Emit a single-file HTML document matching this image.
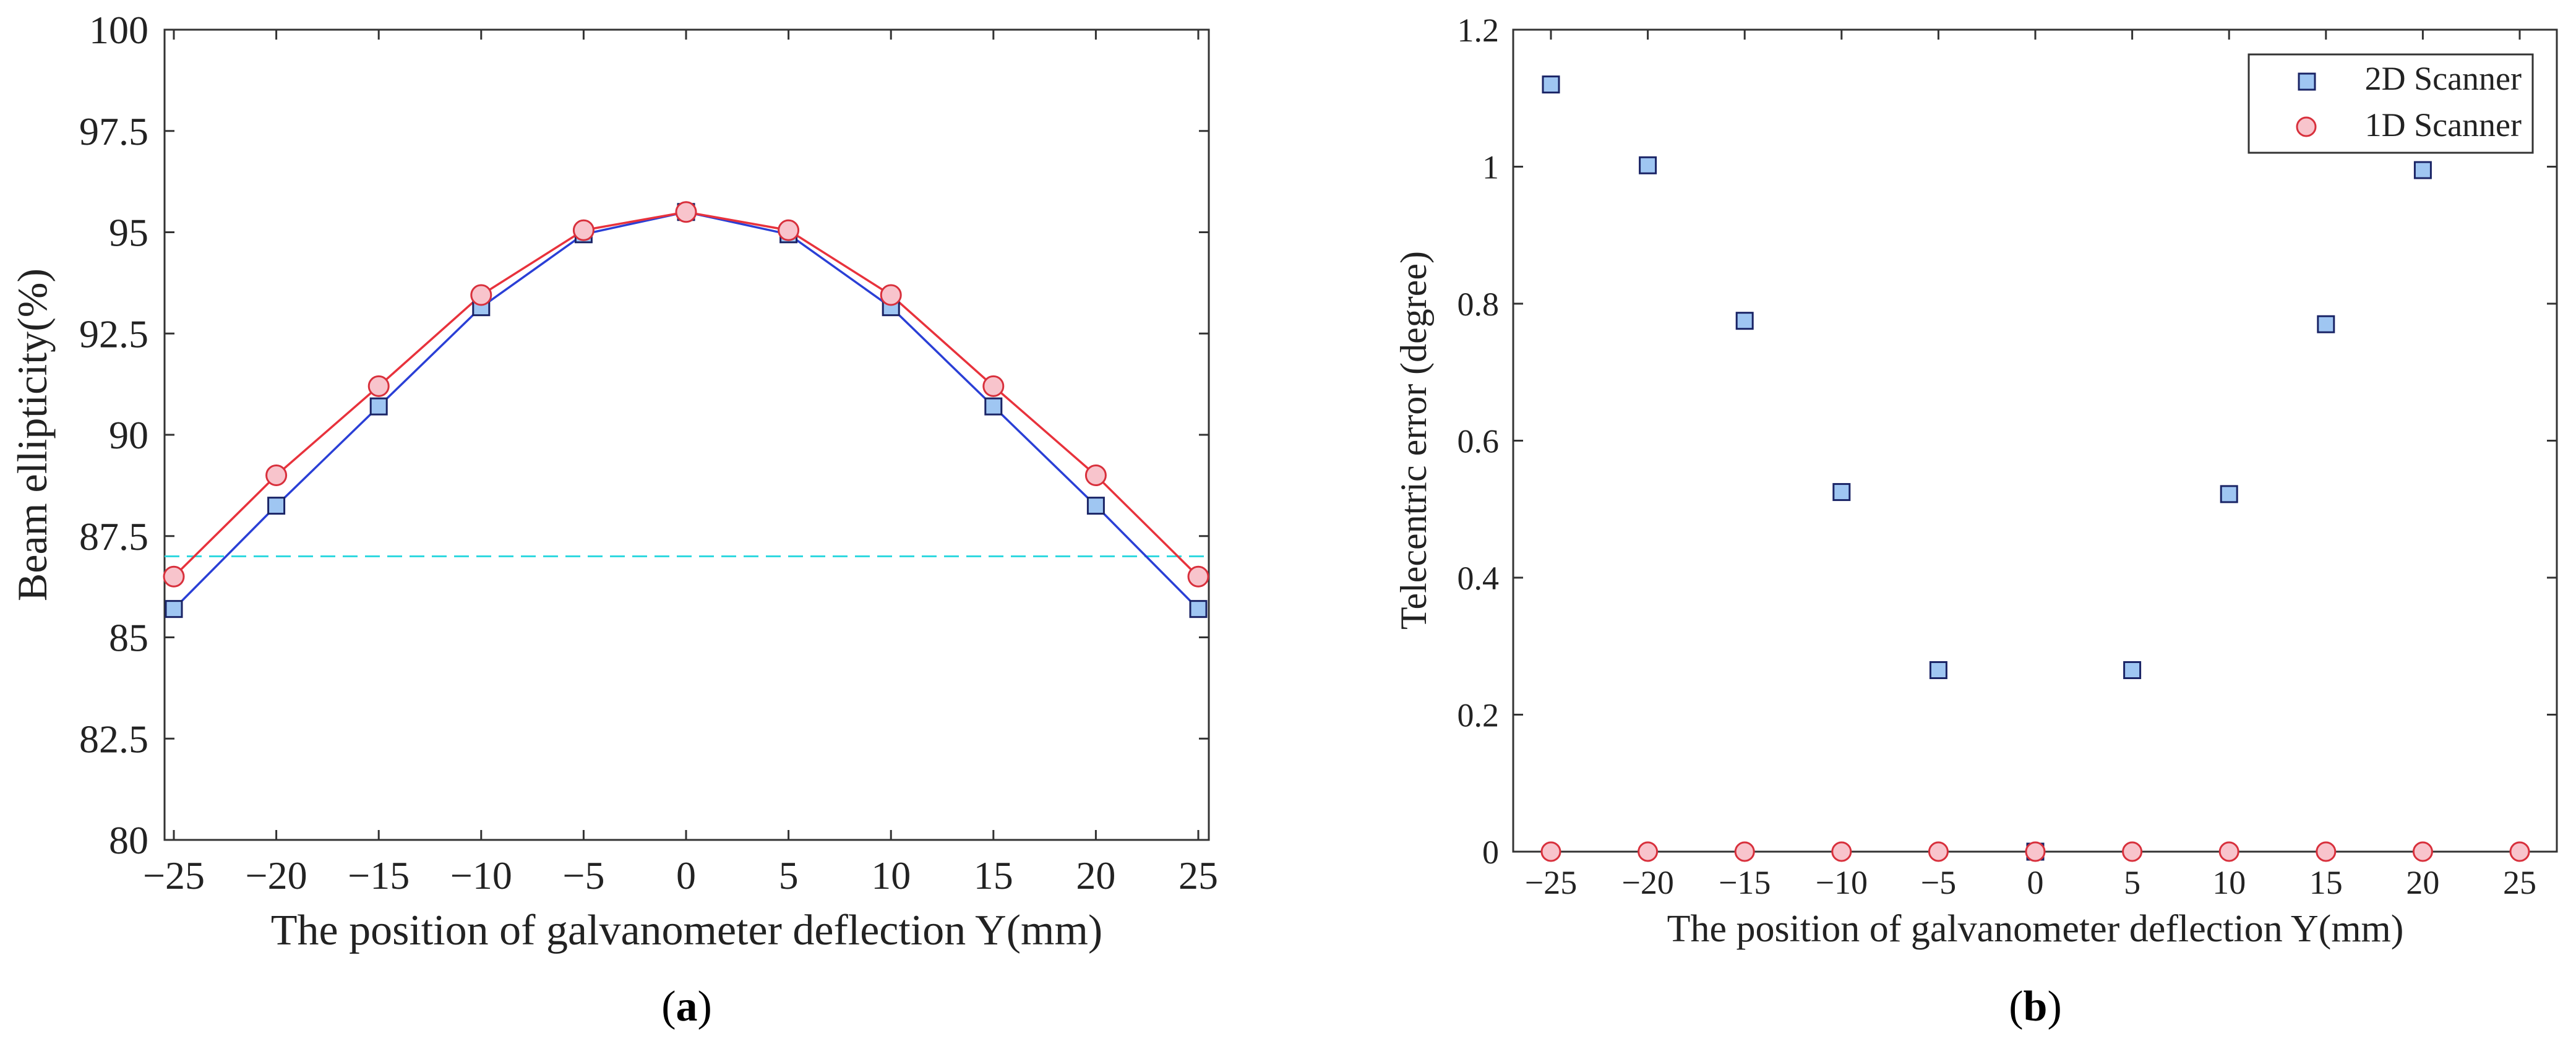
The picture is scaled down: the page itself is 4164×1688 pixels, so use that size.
<!DOCTYPE html>
<html><head><meta charset="utf-8">
<style>
html,body{margin:0;padding:0;background:#fff;}
svg{display:block;font-family:"Liberation Serif",serif;}
</style></head>
<body>
<svg id="fig" width="4164" height="1688" viewBox="0 0 4164 1688" xmlns="http://www.w3.org/2000/svg">
<g id="pa"></g>
<g id="pb"></g>
</svg>
<script>
const categories = [-25,-20,-15,-10,-5,0,5,10,15,20,25];
const ellip2D = [85.7,88.25,90.7,93.15,94.95,95.5,94.95,93.15,90.7,88.25,85.7];
const ellip1D = [86.5,89.0,91.2,93.45,95.05,95.5,95.05,93.45,91.2,89.0,86.5];
const thresholdValue = [87.0];
const yTicksA = [80,82.5,85,87.5,90,92.5,95,97.5,100];
const yTickLabelsA = ["80","82.5","85","87.5","90","92.5","95","97.5","100"];
const tele2DX = [-25,-20,-15,-10,-5,0,5,10,15,20];
const tele2D = [1.12,1.002,0.775,0.525,0.265,0,0.265,0.522,0.77,0.995];
const tele1D = [0,0,0,0,0,0,0,0,0,0,0];
const yTicksB = [0,0.2,0.4,0.6,0.8,1.0,1.2];
const yTickLabelsB = ["0","0.2","0.4","0.6","0.8","1","1.2"];
const xTickLabels = ["\u221225","\u221220","\u221215","\u221210","\u22125","0","5","10","15","20","25"];

const NS="http://www.w3.org/2000/svg";
function mk(parent,tag,attrs,text){const e=document.createElementNS(NS,tag);for(const k in attrs)e.setAttribute(k,attrs[k]);if(text!==undefined)e.textContent=text;parent.appendChild(e);return e;}

// Panel A
const A={l:266,r:1954,t:48,b:1358};
const xA=v=>281+(v+25)*(1937-281)/50;
const yA=v=>A.b-(v-80)*(A.b-A.t)/20;
const pa=document.getElementById('pa');
let f=mk(pa,'rect',{x:A.l,y:A.t,width:A.r-A.l,height:A.b-A.t,fill:'none',stroke:'#333','stroke-width':3});


categories.forEach((c,i)=>{
  const x=xA(c);
  mk(pa,'line',{x1:x,y1:A.b,x2:x,y2:A.b-16,stroke:'#333','stroke-width':3});
  mk(pa,'line',{x1:x,y1:A.t,x2:x,y2:A.t+16,stroke:'#333','stroke-width':3});
  const t=mk(pa,'text',{x:x,y:1437,'font-size':64,'text-anchor':'middle',fill:'#222'},xTickLabels[i]);
  
  
});
yTicksA.forEach((v,i)=>{
  const y=yA(v);
  mk(pa,'line',{x1:A.l,y1:y,x2:A.l+16,y2:y,stroke:'#333','stroke-width':3});
  mk(pa,'line',{x1:A.r,y1:y,x2:A.r-16,y2:y,stroke:'#333','stroke-width':3});
  const t=mk(pa,'text',{x:240,y:y+22,'font-size':64,'text-anchor':'end',fill:'#222'},yTickLabelsA[i]);
  
  
});
let d=mk(pa,'line',{x1:A.l,y1:yA(thresholdValue[0]),x2:A.r,y2:yA(thresholdValue[0]),stroke:'#30d8e0','stroke-width':3,'stroke-dasharray':'24 12'});


let l2=mk(pa,'polyline',{points:categories.map((c,i)=>xA(c)+','+yA(ellip2D[i])).join(' '),fill:'none',stroke:'#2a3fd6','stroke-width':3.5});


let l1=mk(pa,'polyline',{points:categories.map((c,i)=>xA(c)+','+yA(ellip1D[i])).join(' '),fill:'none',stroke:'#e8323c','stroke-width':3.5});


categories.forEach((c,i)=>{
  const s=mk(pa,'rect',{x:xA(c)-13,y:yA(ellip2D[i])-13,width:26,height:26,fill:'#9fc6f2',stroke:'#1a2466','stroke-width':3});
  
  
});
categories.forEach((c,i)=>{
  const s=mk(pa,'circle',{cx:xA(c),cy:yA(ellip1D[i]),r:16,fill:'#f8c4cc',stroke:'#d8303c','stroke-width':3});
  
  
});
let t=mk(pa,'text',{x:0,y:0,'font-size':68,'text-anchor':'middle',fill:'#222',transform:'translate(75,703) rotate(-90)'},'Beam ellipticity(%)');


t=mk(pa,'text',{x:1110,y:1527,'font-size':70,'text-anchor':'middle',fill:'#222'},'The position of galvanometer deflection Y(mm)');


t=mk(pa,'text',{x:1110,y:1650,'font-size':70,'text-anchor':'middle',fill:'#000'});
t.innerHTML='(<tspan font-weight="bold">a</tspan>)';



// Panel B
const B={l:2446,r:4133,t:48,b:1377};
const xB=v=>2507+(v+25)*(4073-2507)/50;
const yB=v=>B.b-v*(B.b-B.t)/1.2;
const pb=document.getElementById('pb');
f=mk(pb,'rect',{x:B.l,y:B.t,width:B.r-B.l,height:B.b-B.t,fill:'none',stroke:'#333','stroke-width':3});


categories.forEach((c,i)=>{
  const x=xB(c);
  mk(pb,'line',{x1:x,y1:B.b,x2:x,y2:B.b-16,stroke:'#333','stroke-width':3});
  mk(pb,'line',{x1:x,y1:B.t,x2:x,y2:B.t+16,stroke:'#333','stroke-width':3});
  const tt=mk(pb,'text',{x:x,y:1445,'font-size':54,'text-anchor':'middle',fill:'#222'},xTickLabels[i]);
  
  
});
yTicksB.forEach((v,i)=>{
  const y=yB(v);
  mk(pb,'line',{x1:B.l,y1:y,x2:B.l+16,y2:y,stroke:'#333','stroke-width':3});
  mk(pb,'line',{x1:B.r,y1:y,x2:B.r-16,y2:y,stroke:'#333','stroke-width':3});
  const tt=mk(pb,'text',{x:2423,y:y+19,'font-size':54,'text-anchor':'end',fill:'#222'},yTickLabelsB[i]);
  
  
});
// legend (drawn before markers so marker at 20 sits just below it)
const lg=mk(pb,'g',{});


mk(lg,'rect',{x:3635,y:88,width:459,height:159,fill:'#fff',stroke:'#333','stroke-width':3});
let le=mk(lg,'rect',{x:3716,y:119,width:26,height:26,fill:'#9fc6f2',stroke:'#1a2466','stroke-width':3});


le=mk(lg,'text',{x:4076,y:145,'font-size':54,'text-anchor':'end',fill:'#222'},'2D Scanner');


le=mk(lg,'ellipse',{cx:3728,cy:205,rx:15,ry:15,fill:'#f8c4cc',stroke:'#d8303c','stroke-width':3});


le=mk(lg,'text',{x:4076,y:220,'font-size':54,'text-anchor':'end',fill:'#222'},'1D Scanner');


tele2DX.forEach((c,i)=>{
  const s=mk(pb,'rect',{x:xB(c)-13,y:yB(tele2D[i])-13,width:26,height:26,fill:'#9fc6f2',stroke:'#1a2466','stroke-width':3});
  
  
});
categories.forEach((c,i)=>{
  const s=mk(pb,'circle',{cx:xB(c),cy:yB(tele1D[i]),r:15,fill:'#f8c4cc',stroke:'#d8303c','stroke-width':3});
  
  
});
t=mk(pb,'text',{x:0,y:0,'font-size':60,'text-anchor':'middle',fill:'#222',transform:'translate(2305,712) rotate(-90)'},'Telecentric error (degree)');


t=mk(pb,'text',{x:3290,y:1522,'font-size':62,'text-anchor':'middle',fill:'#222'},'The position of galvanometer deflection Y(mm)');


t=mk(pb,'text',{x:3290,y:1650,'font-size':70,'text-anchor':'middle',fill:'#000'});
t.innerHTML='(<tspan font-weight="bold">b</tspan>)';


</script>
</body></html>
